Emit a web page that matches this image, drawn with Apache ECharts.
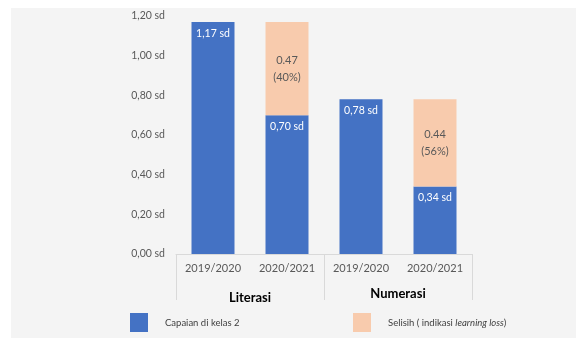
<!DOCTYPE html>
<html>
<head>
<meta charset="utf-8">
<script src="https://cdn.jsdelivr.net/npm/echarts@6/dist/echarts.min.js"></script>
<style>html,body{margin:0;padding:0;background:#fff}#c{width:576px;height:339px}</style>
</head>
<body>
<div id="c"></div>
<script>
var years = ['2019/2020', '2020/2021', '2019/2020 ', '2020/2021 '];
var groups = ['Literasi', 'Numerasi'];
var capaian = [1.17, 0.70, 0.78, 0.34];
var selisih = [null, 0.47, null, 0.44];
var selisihPct = [null, '40%', null, '56%'];
var yTicks = [0, 0.2, 0.4, 0.6, 0.8, 1.0, 1.2];
var seriesNames = ['Capaian di kelas 2', 'Selisih ( indikasi learning loss)'];

var FONT = 'Lato, "Open Sans", sans-serif';
var chart = echarts.init(document.getElementById('c'), null, {renderer: 'canvas'});
function fmtSd(v) { return v.toFixed(2).replace('.', ',') + ' sd'; }

chart.setOption({
  backgroundColor: '#ffffff',
  animation: false,
  textStyle: {fontFamily: FONT},
  graphic: [{
    type: 'rect', z: -10, silent: true,
    shape: {x: 11, y: 8, width: 565, height: 330},
    style: {fill: '#f4f4f4'}
  }],
  grid: {left: 176, right: 104, top: 16, bottom: 85, containLabel: false},
  legend: [{
    left: 130, top: 313, padding: 0, itemWidth: 18, itemHeight: 19, icon: 'rect',
    data: [seriesNames[0]],
    textStyle: {fontSize: 9.5, color: '#404040', padding: [0, 0, 0, 12], fontFamily: FONT},
    selectedMode: false
  }, {
    left: 353, top: 313, padding: 0, itemWidth: 18, itemHeight: 19, icon: 'rect',
    data: [seriesNames[1]],
    formatter: function () { return '{n|Selisih ( indikasi }{i|learning loss}{n|)}'; },
    textStyle: {fontSize: 9.5, color: '#404040', padding: [0, 0, 0, 12], fontFamily: FONT,
      rich: {n: {fontSize: 9.5, color: '#404040', fontFamily: FONT}, i: {fontSize: 9.5, color: '#404040', fontStyle: 'italic', fontFamily: FONT}}},
    selectedMode: false
  }],
  xAxis: [{
    type: 'category', data: years, position: 'bottom',
    axisLine: {show: true, lineStyle: {color: '#d9d9d9'}},
    axisTick: {show: false},
    axisLabel: {color: '#595959', fontSize: 11, margin: 9, fontFamily: FONT,
      formatter: function (v) { return v.trim(); }}
  }, {
    type: 'category', data: groups, position: 'bottom',
    axisLine: {show: false},
    axisTick: {show: true, length: 46, lineStyle: {color: '#d9d9d9'}},
    axisLabel: {margin: 33, fontFamily: FONT,
      formatter: function (v, i) { return i === 0 ? '{a|' + v + '}' : '{b|' + v + '}'; },
      rich: {
        a: {fontSize: 13, fontWeight: 'bold', color: '#000', padding: [4, 0, 0, 0], fontFamily: FONT},
        b: {fontSize: 13, fontWeight: 'bold', color: '#000', fontFamily: FONT}
      }}
  }],
  yAxis: {
    type: 'value', min: 0, max: 1.2, interval: 0.2,
    axisLine: {show: false}, axisTick: {show: false},
    splitLine: {show: false},
    axisLabel: {color: '#595959', fontSize: 10.5, margin: 11, fontFamily: FONT,
      formatter: function (v) { return fmtSd(v); }}
  },
  series: [{
    name: seriesNames[0], type: 'bar', stack: 's', barWidth: 43,
    data: capaian,
    itemStyle: {color: '#4472c4'},
    label: {show: true, position: 'insideTop', distance: 6, color: '#ffffff', fontSize: 10.5, fontFamily: FONT,
      formatter: function (p) { return fmtSd(p.value); }}
  }, {
    name: seriesNames[1], type: 'bar', stack: 's', barWidth: 43,
    data: selisih,
    itemStyle: {color: '#f8cbad'},
    label: {show: true, position: 'inside', color: '#595959', fontSize: 11, lineHeight: 17, fontFamily: FONT,
      formatter: function (p) { return p.value.toFixed(2) + '\n(' + selisihPct[p.dataIndex] + ')'; }}
  }]
});
</script>
</body>
</html>
